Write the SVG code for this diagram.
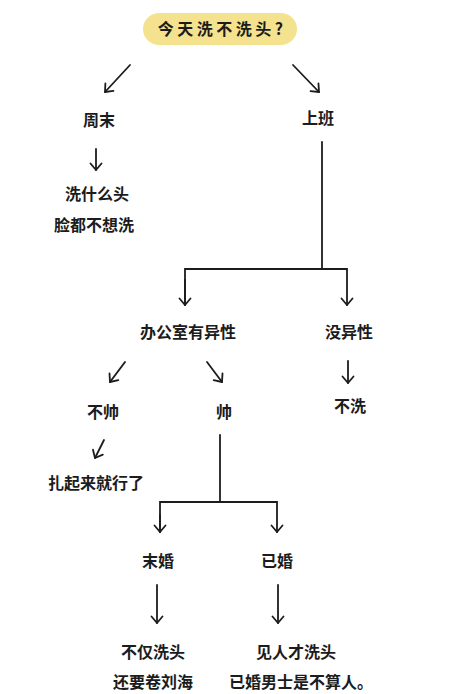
<svg xmlns="http://www.w3.org/2000/svg" width="460" height="694" viewBox="0 0 460 694">
<style>
text{font-family:"Noto Sans CJK SC","Noto Sans",sans-serif;font-weight:bold;font-size:16px;fill:#1c1c1c;text-anchor:middle}
.c{fill:none;stroke:#1c1c1c;stroke-width:1.8;stroke-linecap:round}
.title{font-size:16px;letter-spacing:3.5px}
</style>
<defs>
<marker id="ah" viewBox="-8 -7 10 14" markerWidth="10" markerHeight="14" refX="0" refY="0" orient="auto" markerUnits="userSpaceOnUse">
<path d="M-6.5,-5.5 L0,0 L-6.5,5.5" fill="none" stroke="#1c1c1c" stroke-width="1.8" stroke-linecap="round" stroke-linejoin="round"/>
</marker>
</defs>
<rect width="460" height="694" fill="#ffffff"/>
<g id="connectors">
<line class="c" x1="130" y1="65" x2="105" y2="92" marker-end="url(#ah)"/>
<line class="c" x1="293" y1="65" x2="319" y2="92" marker-end="url(#ah)"/>
<line class="c" x1="96" y1="149" x2="96" y2="170" marker-end="url(#ah)"/>
<polyline class="c" points="322,142 322,269"/>
<polyline class="c" points="185,305 185,269 347,269 347,305" marker-end="url(#ah)"/>
<line class="c" x1="185" y1="280" x2="185" y2="305" marker-end="url(#ah)"/>
<line class="c" x1="125" y1="362" x2="110" y2="382" marker-end="url(#ah)"/>
<line class="c" x1="207" y1="362" x2="222" y2="382" marker-end="url(#ah)"/>
<line class="c" x1="348" y1="361" x2="348" y2="383" marker-end="url(#ah)"/>
<line class="c" x1="104" y1="440" x2="95" y2="458" marker-end="url(#ah)"/>
<polyline class="c" points="220,435 220,502"/>
<polyline class="c" points="160,532 160,502 277,502 277,532" marker-end="url(#ah)"/>
<line class="c" x1="160" y1="515" x2="160" y2="532" marker-end="url(#ah)"/>
<line class="c" x1="157" y1="585" x2="157" y2="623" marker-end="url(#ah)"/>
<line class="c" x1="278" y1="585" x2="278" y2="623" marker-end="url(#ah)"/>
</g>
<g id="n-root">
<rect x="143" y="13" width="154" height="32" rx="16" fill="#f4e28e"/>
<text class="title" x="222" y="35">今天洗不洗头?</text>
</g>
<g id="n-weekend"><text x="99" y="126">周末</text></g>
<g id="n-work"><text x="318" y="124">上班</text></g>
<g id="n-weekend-result"><text x="97" y="200">洗什么头</text><text x="94" y="231">脸都不想洗</text></g>
<g id="n-opposite"><text x="188" y="338">办公室有异性</text></g>
<g id="n-no-opposite"><text x="349" y="338">没异性</text></g>
<g id="n-not-handsome"><text x="103" y="418">不帅</text></g>
<g id="n-handsome"><text x="224" y="418">帅</text></g>
<g id="n-no-wash"><text x="350" y="412">不洗</text></g>
<g id="n-tie"><text x="96" y="489">扎起来就行了</text></g>
<g id="n-single"><text x="158" y="567">末婚</text></g>
<g id="n-married"><text x="277" y="567">已婚</text></g>
<g id="n-single-result"><text x="153" y="658">不仅洗头</text><text x="153" y="688">还要卷刘海</text></g>
<g id="n-married-result"><text x="296" y="658">见人才洗头</text><text x="301" y="688">已婚男士是不算人。</text></g>
</svg>
